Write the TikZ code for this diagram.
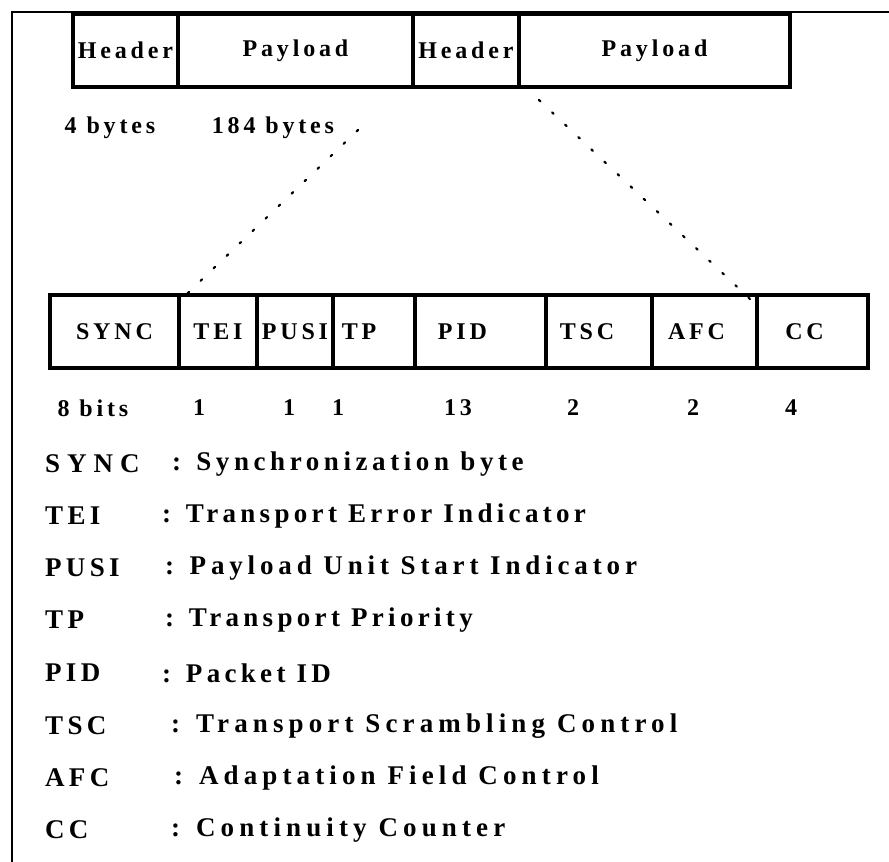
\documentclass[tikz,border=0pt]{standalone}
\usepackage{fontspec}
\setmainfont{Liberation Serif}
\newfontfamily\pktfont[LetterSpace=16]{Liberation Serif}
\usetikzlibrary{positioning}

\begin{document}
\begin{tikzpicture}[x=1pt,y=-1pt]
\tikzset{
  field/.style={rectangle,draw,line width=4.5pt,minimum height=73pt,inner sep=0pt,
    font=\pktfont\bfseries\fontsize{24}{28}\selectfont},
  sizelabel/.style={inner sep=0pt,font=\pktfont\bfseries\fontsize{24}{28}\selectfont},
  legend/.style={anchor=west,inner sep=0pt,font=\pktfont\bfseries\fontsize{27}{32}\selectfont},
  spread/.style={legend,font=\pktfont\bfseries\fontsize{27}{32}\selectfont\addfontfeature{LetterSpace=#1}},
  zoomline/.style={line width=2.2pt,line cap=round,dash pattern=on 2pt off 16pt}
}
\useasboundingbox (0,0) rectangle (889,862);
% frame (scan edge)
\draw[line width=2pt] (12,862) -- (12,12) -- (889,12);
% transport stream packets
\node[field,minimum width=105pt] (n_hdrA) at (125.5,50.5) {Header};
\node[field,minimum width=235pt] (n_payA) at (295.5,50.5) {Payload};
\node[field,minimum width=106pt] (n_hdrB) at (466,50.5) {Header};
\node[field,minimum width=271pt] (n_payB) at (654.5,50.5) {Payload};
\node[sizelabel] (n_hdrsize) at (110,128) {4 bytes};
\node[sizelabel] (n_paysize) at (273,128) {184 bytes};
% header fields
\node[field,minimum width=129pt] (n_sync) at (114.5,331.5) {SYNC};
\node[field,minimum width=78pt] (n_tei) at (218,331.5) {TEI};
\node[field,minimum width=76pt] (n_pusi) at (295,331.5) {PUSI};
\node[field,minimum width=82pt] (n_tp) at (374,331.5) {TP\hspace*{30pt}};
\node[field,minimum width=131pt] (n_pid) at (480.5,331.5) {PID\hspace*{36pt}};
\node[field,minimum width=106pt] (n_tsc) at (599,331.5) {TSC\hspace*{24pt}};
\node[field,minimum width=105pt] (n_afc) at (704.5,331.5) {AFC\hspace*{16pt}};
\node[field,minimum width=111pt] (n_cc) at (812.5,331.5) {CC\hspace*{16pt}};
\node[sizelabel] (b_sync) at (93,408) {8 bits};
\node[sizelabel] (b_tei) at (199,408) {1};
\node[sizelabel] (b_pusi) at (289,408) {1};
\node[sizelabel] (b_tp) at (338,408) {1};
\node[sizelabel] (b_pid) at (458,408) {13};
\node[sizelabel] (b_tsc) at (573,408) {2};
\node[sizelabel] (b_afc) at (693,408) {2};
\node[sizelabel] (b_cc) at (791,408) {4};
% zoom lines
\coordinate (z_left) at (358,130);
\coordinate (z_right) at (539,100);
\draw[zoomline] (z_left) -- ([shift={(4pt,-7pt)}]n_tei.north west);
\draw[zoomline] (z_right) -- ([shift={(-4pt,-7pt)}]n_cc.north west);
% legend
\node[spread=26] (l_sync) at (45,464) {SYNC};
\node[legend] (l_tei) at (45,516) {TEI};
\node[legend] (l_pusi) at (45,568) {PUSI};
\node[legend] (l_tp) at (45,620) {TP};
\node[legend] (l_pid) at (45,673) {PID};
\node[legend] (l_tsc) at (45,726) {TSC};
\node[legend] (l_afc) at (45,778) {AFC};
\node[legend] (l_cc) at (45,830) {CC};
\node[spread=17] (d_sync) at (172,464) {: Synchronization byte};
\node[legend] (d_tei) at (162,516) {: Transport Error Indicator};
\node[spread=18] (d_pusi) at (165,568) {: Payload Unit Start Indicator};
\node[legend] (d_tp) at (165,620) {: Transport Priority};
\node[legend] (d_pid) at (162,673) {: Packet ID};
\node[spread=19] (d_tsc) at (171,726) {: Transport Scrambling Control};
\node[spread=19] (d_afc) at (174,778) {: Adaptation Field Control};
\node[spread=19] (d_cc) at (171,830) {: Continuity Counter};
\end{tikzpicture}
\end{document}
